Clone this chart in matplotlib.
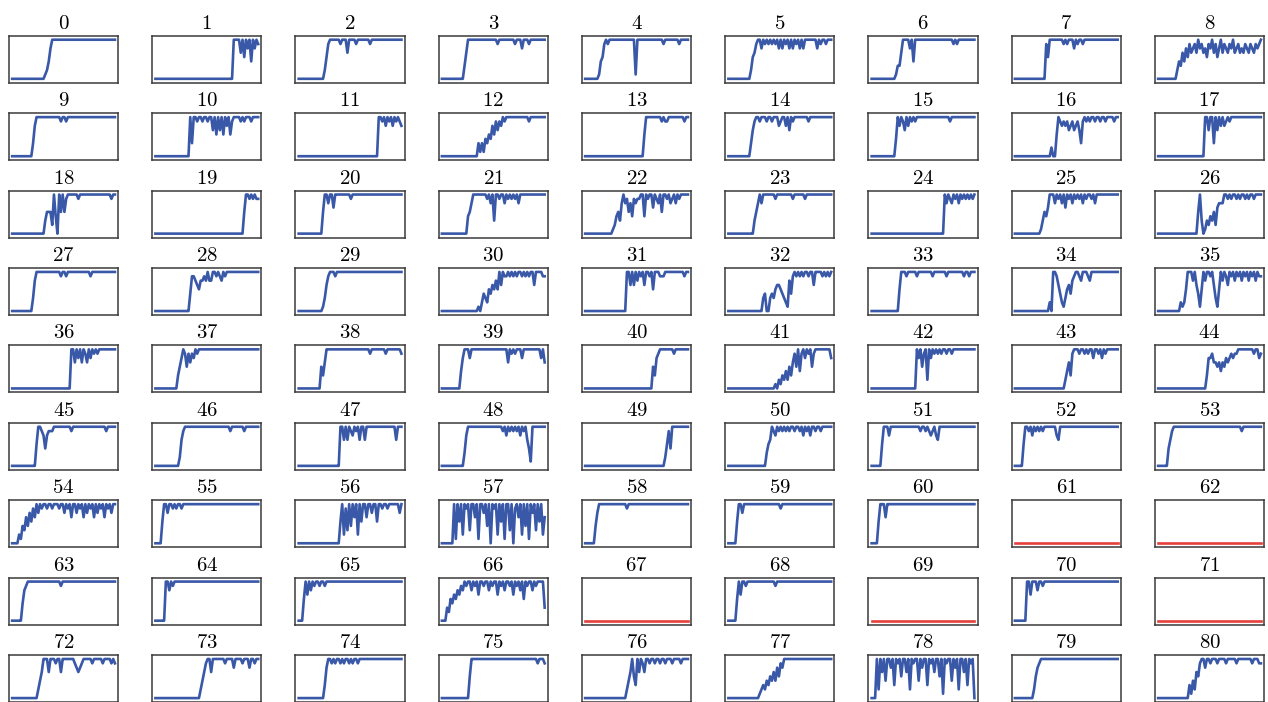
import numpy as np
import matplotlib.pyplot as plt

plt.rcParams['mathtext.fontset'] = 'cm'

# One string per panel at 60 evenly spaced steps.
# Each digit is the curve level: 0 = floor, 9 = ceiling.
series = [
    "0" * 19 + "12479" + "9" * 36,
    "0" * 45 + "999969597949798",
    "0" * 15 + "2589" + "99999" + "8" + "999" + "6" + "9999" + "8" + "9" * 7 + "8" + "9" * 18,
    "0" * 13 + "369" + "9" * 16 + "8" + "9" * 9 + "8" + "999" + "7" + "999" + "8" + "9" * 9,
    "0" * 8 + "1458989" + "9" * 14 + "1" + "9" * 15 + "8" + "9" * 8 + "8" + "9" * 5,
    "0" * 13 + "25689" + "97989898989797989797989797" + "99" + "99999" + "798998999",
    "0" * 14 + "133699997949" + "9" * 21 + "898" + "9" * 10,
    "0" * 18 + "859" + "9" * 7 + "898999798998" + "9" * 20,
    "0" * 11 + "2436475867" + "8697867587" + "9685796876" + "8796786768" + "768768789",
    # 9 - 17
    "0" * 12 + "379" + "9" * 13 + "8" + "99" + "8" + "9" * 28,
    "0" * 20 + "9399899899" + "8996959695" + "9795899998" + "9899989999",
    "0" * 46 + "99897989798987",
    "0" * 21 + "31314354758687989" + "9" * 12 + "8" + "9" * 9,
    "0" * 34 + "59" + "9" * 8 + "8988" + "9" * 9 + "899",
    "0" * 13 + "3689989998998999789979698" + "9" * 8 + "8" + "9" * 13,
    "0" * 14 + "497986979898" + "9" * 19 + "8" + "9" * 14,
    "0" * 21 + "2005987878" + "6786786389" + "8989989989" + "989999899",
    "0" * 27 + "996993969797898" + "9" * 18,
    # 18 - 26
    "0" * 19 + "35552940959589" + "9" * 5 + "8" + "9" * 18 + "899",
    "0" * 51 + "599898988",
    "0" * 14 + "599799699" + "9" * 7 + "8" + "9" * 29,
    "0" * 15 + "4579" + "9" * 7 + "89793998997989898979" + "9" * 14,
    "0" * 16 + "1245379785" + "7487889949" + "8996987959" + "9897897989" + "9999",
    "0" * 15 + "357979" + "9" * 6 + "8" + "9" * 9 + "8" + "9" * 6 + "8" + "9" * 15,
    "0" * 42 + "979879897989898989",
    "0" * 15 + "1354699979" + "8979698979" + "8989798998" + "979" + "9" * 12,
    "0" * 23 + "5930132435" + "2677799898" + "9989899898" + "9989999",
    # 27 - 35
    "0" * 12 + "379" + "9" * 13 + "8" + "99" + "8" + "9" * 13 + "8" + "9" * 14,
    "0" * 20 + "4887657787" + "9779989879" + "89" + "9" * 18,
    "0" * 14 + "13689998" + "9" * 38,
    "0" * 21 + "1024325465" + "7596988989" + "8989989898" + "996999988",
    "0" * 24 + "9969697989" + "6998959998" + "889" + "9" * 10 + "899",
    "0" * 20 + "3400343566" + "5432174898" + "9898998996" + "9999898989",
    "0" * 16 + "59998" + "9" * 5 + "8" + "9" * 8 + "8" + "9" * 7 + "8" + "9" * 9 + "8998999",
    "0" * 20 + "2099864213" + "5647899879" + "99879" + "9" * 15,
    "0" * 13 + "2125999796" + "4159799896" + "3159798698" + "9798979897" + "9897988",
    # 36 - 44
    "0" * 34 + "99697969869798989" + "9" * 9,
    "0" * 13 + "3579858687989" + "9" * 34,
    "0" * 13 + "5369" + "9" * 24 + "8" + "9" * 8 + "8" + "9" * 8 + "8",
    "0" * 11 + "4799979" + "9" * 20 + "698989997" + "9" * 10 + "796",
    "0" * 39 + "53789" + "9" * 7 + "8" + "9" * 8,
    "0" * 27 + "1021324253" + "6859489798" + "9589999999" + "997",
    "0" * 26 + "9795892979" + "89898998998" + "9" * 13,
    "0" * 29 + "2463899989" + "9898997998" + "97989" + "9" * 6,
    "0" * 28 + "3778665646" + "5767878899" + "9999999899" + "78",
    # 45 - 53
    "0" * 14 + "59987478889" + "9" * 9 + "8" + "9" * 19 + "8" + "9" * 5,
    "0" * 14 + "2689" + "9" * 25 + "8" + "9" * 7 + "8" + "9" * 8,
    "0" * 24 + "9969698798969969" + "9" * 16 + "6" + "999",
    "0" * 13 + "379" + "9" * 19 + "897989898979896419" + "9" * 7,
    "0" * 46 + "25849" + "9" * 9,
    "0" * 22 + "3569879898" + "9898998998" + "9798979989" + "98999999",
    "0" * 6 + "59997" + "9" * 17 + "899898789769" + "9" * 20,
    "0" * 5 + "5998979898" + "9899999997" + "69" + "9" * 33,
    "0" * 6 + "4689" + "9" * 38 + "8" + "9" * 11,
    # 54 - 62
    "0" * 4 + "2143647586" + "9798998998" + "9998997989" + "6997989697" + "9896979896" + "989799",
    "0" * 4 + "5997998989989" + "9" * 43,
    "0" * 24 + "5928394969" + "2959969979" + "9599899899" + "999979",
    "0" * 7 + "9195929893" + "9969199794" + "9098929591" + "9939089692" + "9491979395" + "926",
    "0" * 6 + "479" + "9" * 15 + "8" + "9" * 35,
    "0" * 5 + "5997" + "9" * 21 + "8" + "9" * 29,
    "0" * 4 + "59996" + "9" * 51,
    "0" * 60,
    "0" * 60,
    # 63 - 71
    "0" * 6 + "4789" + "9" * 18 + "8" + "9" * 31,
    "0" * 6 + "997989" + "9" * 48,
    "0" * 3 + "59697989989989" + "9" * 43,
    "0" * 3 + "3254657687" + "9899798969" + "9899798996" + "9897998969" + "8979598997" + "9899993",
    "0" * 60,
    "0" * 5 + "596998" + "9" * 16 + "8" + "9" * 32,
    "0" * 60,
    "0" * 7 + "9969997998" + "9" * 43,
    "0" * 60,
    # 72 - 80
    "0" * 15 + "2469996999" + "8996999999" + "9876789999" + "9899999899" + "99898",
    "0" * 26 + "2468996999" + "9999899997" + "9999899979" + "9899",
    "0" * 15 + "3799898998" + "9899898998" + "9" + "9" * 24,
    "0" * 16 + "59" + "9" * 37 + "8" + "999" + "8",
    "0" * 24 + "2469539698" + "6998998998" + "9989998999" + "989999",
    "0" * 18 + "12324354647587999" + "9" * 25,
    "0" * 3 + "9296949979" + "3989599692" + "9899497993" + "9896995919" + "8994979299" + "6939890",
    "0" * 11 + "25789" + "9" * 44,
    "0" * 18 + "3142658997" + "9989998999" + "9899999899" + "9999998999" + "88",
]

# panels whose run never took off, drawn in red
flat_panels = [61, 62, 67, 69, 71]

fig, axes = plt.subplots(9, 9, figsize=(12.68, 7.02), dpi=100)
fig.subplots_adjust(left=0.007, right=0.997, top=0.949, bottom=0.0,
                    wspace=0.31, hspace=0.65)

for i, ax in enumerate(axes.flat):
    vals = np.array([int(c) for c in series[i]]) / 9.0
    x = np.linspace(0, 1, len(vals))
    color = '#e5403c' if i in flat_panels else '#3a58a8'
    ax.plot(x, vals, color=color, lw=1.9)
    ax.set_xlim(-0.032, 1.032)
    ax.set_ylim(-0.1, 1.1)
    ax.set_xticks([])
    ax.set_yticks([])
    for sp in ax.spines.values():
        sp.set_color('#3a3a3a')
        sp.set_linewidth(1.1)
    ax.set_title(f'${i}$', fontsize=15, pad=5)

fig.savefig('out.png', dpi=100)
